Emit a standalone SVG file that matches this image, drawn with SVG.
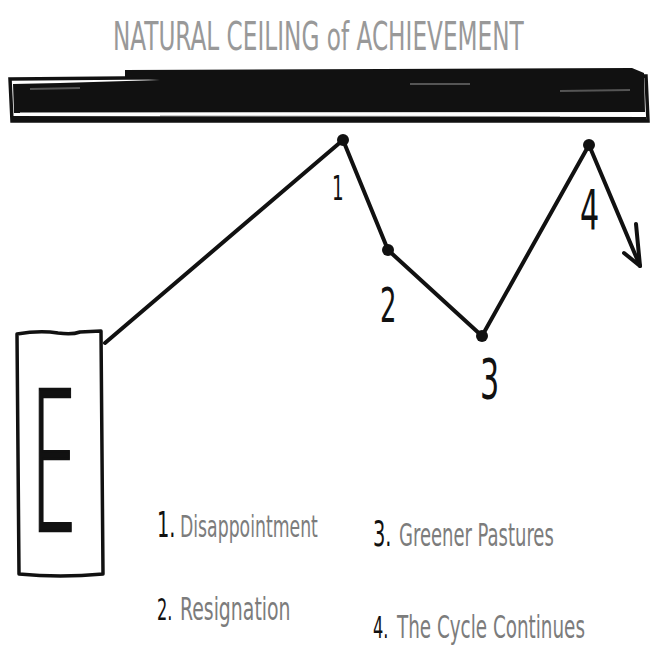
<svg xmlns="http://www.w3.org/2000/svg" width="652" height="659" viewBox="0 0 652 659">
<style>
.hand{font-family:"DejaVu Sans Condensed","DejaVu Sans","Liberation Sans",sans-serif;}
.gray{fill:#7c7c7c;}
.title{fill:#999;}
.ink{fill:#111;}
.line{fill:none;stroke:#111;stroke-width:4;stroke-linecap:round;stroke-linejoin:round;}
.dot{fill:#111;}
.num{font-family:"DejaVu Sans Condensed","DejaVu Sans",sans-serif;fill:#111;}
</style>
<rect width="652" height="659" fill="#fff"/>
<g id="title">
<text class="hand title" transform="translate(113,50) scale(1,1.5)" font-size="25.8">NATURAL CEILING of ACHIEVEMENT</text>
</g>
<g id="ceiling">
<path d="M10,79 L125,78 L646,76 L648,121 L12,121 Z" fill="none" stroke="#111" stroke-width="3.5"/>
<path d="M125,70 L632,68 L644,73 L645,112 L14,113 L13,84 L60,83 L160,80 L125,77 Z" fill="#111"/>
<path d="M20,114 L640,114" stroke="#fff" stroke-width="3" fill="none"/>
<path d="M160,116 L560,117" stroke="#bbb" stroke-width="1.5" fill="none"/>
<path d="M30,89 L80,88 M560,91 L630,90 M410,84 L470,84" stroke="#555" stroke-width="2" fill="none"/>
<path d="M12,118 L646,119" stroke="#111" stroke-width="4" fill="none"/>
</g>
<g id="connectors">
<path class="line" d="M105,343 L343,140 L388,250 L482,336 L589,145 L640,266"/>
<path class="line" d="M636,224 L640,266 L624,253"/>
</g>
<g id="node-E">
<path d="M17,334 Q40,330 58,333 Q72,335 80,332 L101,331 L103,574 Q60,578 19,574 Z" fill="none" stroke="#111" stroke-width="3.5" stroke-linejoin="round"/>
<text class="ink" transform="translate(30,531) scale(0.39,1)" font-family="DejaVu Sans,Liberation Sans,sans-serif" font-weight="200" font-size="195" stroke="#111" stroke-width="2" vector-effect="non-scaling-stroke">E</text>
</g>
<g id="point-1">
<circle class="dot" cx="343" cy="140" r="6"/>
<text class="num" transform="translate(332,200) scale(0.6,1)" font-size="34">1</text>
</g>
<g id="point-2">
<circle class="dot" cx="388" cy="250" r="6"/>
<text class="num" transform="translate(380,322) scale(0.6,1)" font-size="48">2</text>
</g>
<g id="point-3">
<circle class="dot" cx="482" cy="336" r="6"/>
<text class="num" transform="translate(480,398) scale(0.6,1)" font-size="56">3</text>
</g>
<g id="point-4">
<circle class="dot" cx="589" cy="145" r="6"/>
<text class="num" transform="translate(580,229) scale(0.6,1)" font-size="56">4</text>
</g>
<g id="legend">
<text class="num" transform="translate(157,537) scale(0.6,1)" font-size="36">1.</text>
<text class="hand gray" transform="translate(180,537) scale(1,1.6)" font-size="19.2">Disappointment</text>
<text class="num" transform="translate(157,620) scale(0.6,1)" font-size="30">2.</text>
<text class="hand gray" transform="translate(180,620) scale(1,1.5)" font-size="21">Resignation</text>
<text class="num" transform="translate(373,546) scale(0.6,1)" font-size="36">3.</text>
<text class="hand gray" transform="translate(399,546) scale(1,1.6)" font-size="20">Greener Pastures</text>
<text class="num" transform="translate(373,638) scale(0.6,1)" font-size="30">4.</text>
<text class="hand gray" transform="translate(397,638) scale(1,1.6)" font-size="20.4">The Cycle Continues</text>
</g>
</svg>
